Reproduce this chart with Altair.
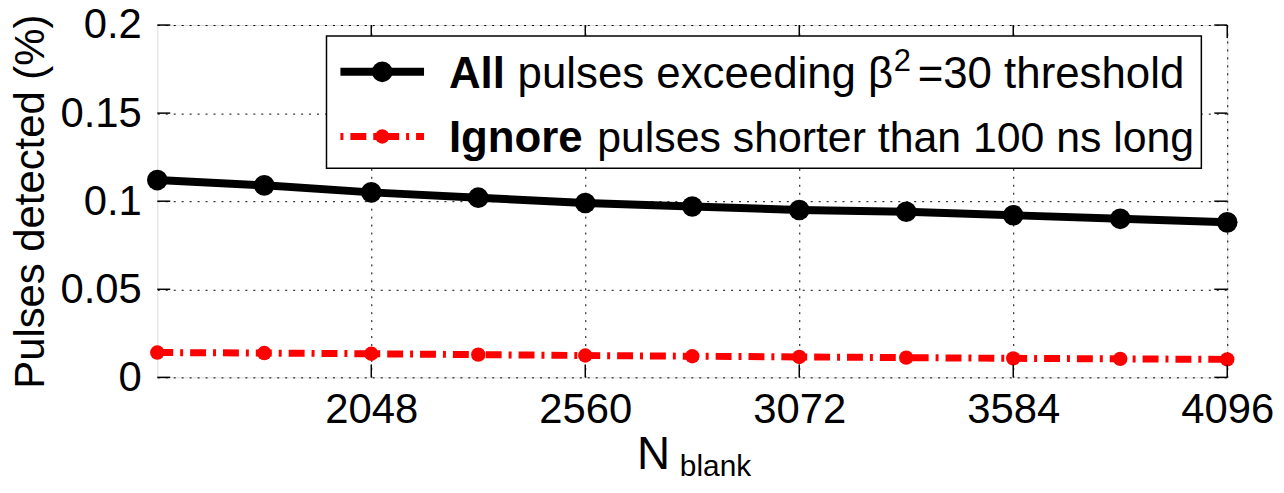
import altair as alt
import pandas as pd

# ---- data ----
n_blank = [1536, 1792, 2048, 2304, 2560, 2816, 3072, 3328, 3584, 3840, 4096]
all_pulses = [0.112, 0.109, 0.105, 0.102, 0.099, 0.097, 0.095, 0.094, 0.092, 0.090, 0.088]
ignore_short = [0.0141, 0.0138, 0.0134, 0.0129, 0.0124, 0.0120, 0.0116, 0.0112, 0.0108, 0.0105, 0.0102]
x_ticks = [2048, 2560, 3072, 3584, 4096]
y_ticks = [0, 0.05, 0.1, 0.15, 0.2]
legend_bold = ["All", "Ignore"]
legend_row1 = ["pulses exceeding β", "2", "=30 threshold"]
legend_row2 = "pulses shorter than 100 ns long"

W, H = 1075, 354
FONT = "Liberation Sans"

df = pd.DataFrame({"n": n_blank, "all": all_pulses, "ign": ignore_short})
one = pd.DataFrame({"a": [0]})

xs = alt.Scale(domain=[1536, 4096], nice=False, zero=False)
ys = alt.Scale(domain=[0, 0.2], nice=False)

xax = alt.Axis(values=x_ticks, format="d", title=None, grid=True, gridDash=[2, 6], gridColor="black",
               gridOpacity=1, gridWidth=1, ticks=False, domain=False, labelFont=FONT,
               labelFontSize=42, labelColor="black", labelPadding=12, labelFlush=False)
yax = alt.Axis(values=y_ticks, format="~g", title="Pulses detected (%)", grid=True,
               gridDash=[2, 6], gridColor="black", gridOpacity=1, gridWidth=1, ticks=False,
               domain=False, labelFont=FONT, labelFontSize=42, labelColor="black",
               labelPadding=16, labelFlush=False, titleFont=FONT, titleFontSize=42,
               titleFontWeight="normal", titleColor="black", titlePadding=8)


def X(field):
    return alt.X(field, type="quantitative", scale=xs, axis=xax, title=None)


def Y(field):
    return alt.Y(field, type="quantitative", scale=ys, axis=yax, title="Pulses detected (%)")


base = alt.Chart(df)
red_line = base.mark_line(color="#ff0000", strokeWidth=7, strokeDash=[16, 7, 3, 7]).encode(x=X("n"), y=Y("ign"))
red_pts = base.mark_circle(color="#ff0000", opacity=1, size=210).encode(x=X("n"), y=Y("ign"))
blk_line = base.mark_line(color="black", strokeWidth=8).encode(x=X("n"), y=Y("all"))
blk_pts = base.mark_circle(color="black", opacity=1, size=430).encode(x=X("n"), y=Y("all"))

xt = alt.Chart(pd.DataFrame({"t": x_ticks}))
yt = alt.Chart(pd.DataFrame({"t": y_ticks}))
tick_style = dict(color="black", strokeWidth=1.5)
ticks = [
    xt.mark_rule(**tick_style).encode(x=X("t"), y=alt.value(H), y2=alt.value(H - 13)),
    xt.mark_rule(**tick_style).encode(x=X("t"), y=alt.value(0), y2=alt.value(13)),
    yt.mark_rule(**tick_style).encode(y=Y("t"), x=alt.value(0), x2=alt.value(13)),
    yt.mark_rule(**tick_style).encode(y=Y("t"), x=alt.value(W - 13), x2=alt.value(W)),
]

# ---- legend (hand-built so that the first word can be bold) ----
o = alt.Chart(one)
box = o.mark_rect(fill="white", stroke="black", strokeWidth=1.5).encode(
    x=alt.value(170), x2=alt.value(1049), y=alt.value(11), y2=alt.value(144))
row_y = [47, 112]
leg = [box]
leg.append(o.mark_rule(color="black", strokeWidth=8).encode(
    x=alt.value(184), x2=alt.value(268), y=alt.value(row_y[0])))
leg.append(o.mark_circle(color="black", opacity=1, size=430).encode(
    x=alt.value(226), y=alt.value(row_y[0])))
leg.append(o.mark_rule(color="#ff0000", strokeWidth=7, strokeDash=[3, 7, 16, 7]).encode(
    x=alt.value(184), x2=alt.value(268), y=alt.value(row_y[1])))
leg.append(o.mark_circle(color="#ff0000", opacity=1, size=210).encode(
    x=alt.value(226), y=alt.value(row_y[1])))


def txt(x, y, s, size=44, weight="normal"):
    return o.mark_text(font=FONT, fontSize=size, fontWeight=weight, align="left",
                       baseline="alphabetic", color="black").encode(
        x=alt.value(x), y=alt.value(y), text=alt.value(s))


for i in range(2):
    leg.append(txt(293, row_y[i] + 16, legend_bold[i], weight="bold"))
leg.append(txt(362, row_y[0] + 16, legend_row1[0]))
leg.append(txt(740, row_y[0] - 1, legend_row1[1], size=31))
leg.append(txt(764, row_y[0] + 16, legend_row1[2]))
leg.append(txt(442, row_y[1] + 16, legend_row2, size=43))

# ---- x title N_blank ----
xtitle = [
    txt(482, 446, "N", size=46),
    txt(525, 453, "blank", size=30),
]

chart = alt.layer(red_line, red_pts, blk_line, blk_pts, *ticks, *leg, *xtitle).properties(
    width=W, height=H,
    autosize=alt.AutoSizeParams(type="none"),
    padding={"left": 150, "top": 16, "right": 49, "bottom": 102},
).configure_view(stroke="black", strokeWidth=1.5).configure(background="white")

chart.save("out.html", embed_options={"renderer": "svg", "actions": False})
